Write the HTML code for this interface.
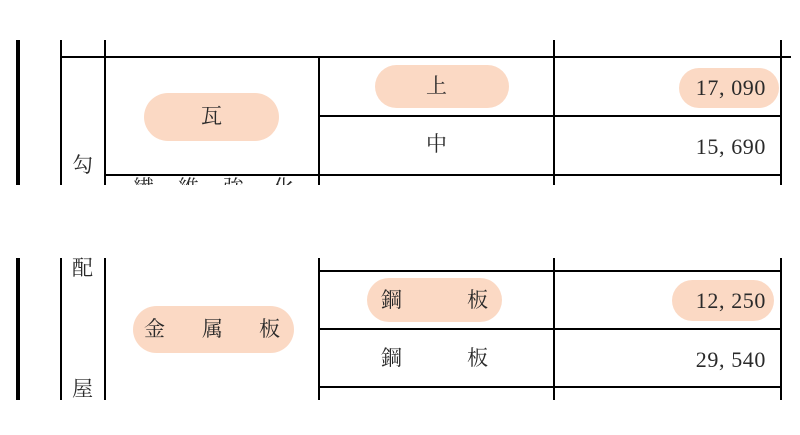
<!DOCTYPE html>
<html><head><meta charset="utf-8"><style>
html,body{margin:0;padding:0;background:#fff;width:800px;height:435px;overflow:hidden;position:relative}
.l{position:absolute;background:#000}
.p{position:absolute;background:#fbd9c4;border-radius:24px}
.t{position:absolute;font-family:"Liberation Serif","Noto Serif CJK JP",serif;font-size:21px;color:#2a2a2a;line-height:1;white-space:pre}
.n{position:absolute;right:34px;font-family:"Liberation Serif",serif;font-size:22px;letter-spacing:0.6px;color:#2a2a2a;line-height:1;white-space:pre}
</style></head><body>
<div class="l" style="left:16px;top:40px;width:4px;height:145px"></div>
<div class="l" style="left:60px;top:40px;width:2px;height:145px"></div>
<div class="l" style="left:104px;top:40px;width:2px;height:145px"></div>
<div class="l" style="left:553px;top:40px;width:2px;height:145px"></div>
<div class="l" style="left:780px;top:40px;width:2px;height:145px"></div>
<div class="l" style="left:61px;top:56px;width:730px;height:2px"></div>
<div class="l" style="left:318px;top:57px;width:2px;height:128px"></div>
<div class="l" style="left:319px;top:115px;width:462px;height:2px"></div>
<div class="l" style="left:105px;top:174px;width:676px;height:2px"></div>

<div class="p" style="left:144px;top:93px;width:135px;height:48px"></div>
<div class="t" style="left:201px;top:106px">瓦</div>
<div class="p" style="left:375px;top:65px;width:134px;height:43px"></div>
<div class="t" style="left:426px;top:76px">上</div>
<div class="p" style="left:679px;top:68px;width:100px;height:40px"></div>
<div class="n" style="top:77px">17, 090</div>
<div class="t" style="left:426px;top:134px">中</div>
<div class="n" style="top:136px">15, 690</div>
<div class="t" style="left:72px;top:155px">勾</div>
<div style="position:absolute;left:106px;top:176px;width:212px;height:9px;overflow:hidden">
<div class="t" style="left:27px;top:2px">繊</div><div class="t" style="left:72px;top:2px">維</div><div class="t" style="left:117px;top:2px">強</div><div class="t" style="left:167px;top:2px">化</div></div>

<div class="l" style="left:16px;top:258px;width:4px;height:142px"></div>
<div class="l" style="left:60px;top:258px;width:2px;height:142px"></div>
<div class="l" style="left:104px;top:258px;width:2px;height:142px"></div>
<div class="l" style="left:318px;top:258px;width:2px;height:142px"></div>
<div class="l" style="left:553px;top:258px;width:2px;height:142px"></div>
<div class="l" style="left:780px;top:258px;width:2px;height:142px"></div>
<div class="l" style="left:319px;top:270px;width:462px;height:2px"></div>
<div class="l" style="left:319px;top:328px;width:462px;height:2px"></div>
<div class="l" style="left:319px;top:386px;width:462px;height:2px"></div>

<div class="t" style="left:72px;top:258px">配</div>
<div class="t" style="left:72px;top:379px">屋</div>
<div class="p" style="left:133px;top:306px;width:161px;height:47px"></div>
<div class="t" style="left:144px;top:319px">金</div>
<div class="t" style="left:202px;top:319px">属</div>
<div class="t" style="left:259px;top:319px">板</div>
<div class="p" style="left:367px;top:278px;width:135px;height:44px"></div>
<div class="t" style="left:381px;top:290px">鋼</div>
<div class="t" style="left:467px;top:290px">板</div>
<div class="p" style="left:672px;top:280px;width:102px;height:41px"></div>
<div class="n" style="top:290px">12, 250</div>
<div class="t" style="left:381px;top:348px">鋼</div>
<div class="t" style="left:467px;top:348px">板</div>
<div class="n" style="top:349px">29, 540</div>
</body></html>
